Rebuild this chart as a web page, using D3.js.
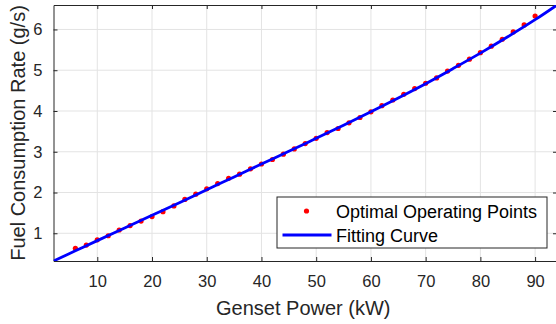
<!DOCTYPE html>
<html>
<head>
<meta charset="utf-8">
<script src="https://cdn.jsdelivr.net/npm/d3@7.9.0/dist/d3.min.js"></script>
<style>
  html, body { margin: 0; padding: 0; background: #fff; }
  svg { display: block; font-family: "Liberation Sans", Arial, Helvetica, sans-serif; }
</style>
</head>
<body>
<svg id="chart" width="556" height="324"></svg>
<script>
// Optimal operating points (kW, g/s)
const pointPower = [6, 8, 10, 12, 14, 16, 18, 20, 22, 24, 26, 28, 30, 32, 34, 36, 38, 40,
  42, 44, 46, 48, 50, 52, 54, 56, 58, 60, 62, 64, 66, 68, 70, 72, 74, 76, 78, 80,
  82, 84, 86, 88, 90];
const pointFuel = [0.63, 0.71, 0.84, 0.94, 1.08, 1.19, 1.30, 1.41, 1.53, 1.67, 1.83, 1.96, 2.09, 2.22, 2.35, 2.45, 2.58, 2.70,
  2.81, 2.94, 3.07, 3.20, 3.33, 3.47, 3.57, 3.71, 3.84, 3.98, 4.13, 4.27, 4.41, 4.55, 4.68, 4.81, 4.98, 5.12, 5.27, 5.43,
  5.59, 5.76, 5.94, 6.11, 6.33];

// Fitting curve
const curvePower = [2, 6, 10, 15, 20, 25, 30, 35, 40, 45, 50, 55, 60, 65, 70, 75, 80, 85, 90, 94];
const curveFuel = [0.32, 0.57, 0.82, 1.13, 1.44, 1.75, 2.07, 2.38, 2.70, 3.01, 3.33, 3.65, 3.98, 4.32, 4.67, 5.04, 5.42, 5.82, 6.24, 6.60];

const xTicks = [10, 20, 30, 40, 50, 60, 70, 80, 90];
const yTicks = [1, 2, 3, 4, 5, 6];
const legendLabels = ["Optimal Operating Points", "Fitting Curve"];

const svg = d3.select("#chart");
const plotLeft = 53.5, plotRight = 557, plotTop = 5, plotBottom = 261;

const x = d3.scaleLinear().domain([2, 94]).range([plotLeft, plotRight]);
const y = d3.scaleLinear().domain([0.32, 6.6]).range([plotBottom, plotTop]);

const axisColor = "#262626";
const gridColor = "#e3e3e3";

// grid
svg.append("g").selectAll("line")
  .data(xTicks).enter().append("line")
  .attr("x1", d => x(d)).attr("x2", d => x(d))
  .attr("y1", plotTop).attr("y2", plotBottom)
  .attr("stroke", gridColor).attr("stroke-width", 1);
svg.append("g").selectAll("line")
  .data(yTicks).enter().append("line")
  .attr("x1", plotLeft).attr("x2", plotRight)
  .attr("y1", d => y(d)).attr("y2", d => y(d))
  .attr("stroke", gridColor).attr("stroke-width", 1);

// axes with inward ticks
const tickLen = 4;
const gx = svg.append("g").attr("transform", `translate(0,${plotBottom})`)
  .call(d3.axisBottom(x).tickValues(xTicks).tickFormat(d3.format("d"))
    .tickSizeInner(-tickLen).tickSizeOuter(0).tickPadding(14));
const gy = svg.append("g").attr("transform", `translate(${plotLeft},0)`)
  .call(d3.axisLeft(y).tickValues(yTicks).tickFormat(d3.format("d"))
    .tickSizeInner(-tickLen).tickSizeOuter(0).tickPadding(11));
const gt = svg.append("g").attr("transform", `translate(0,${plotTop})`)
  .call(d3.axisTop(x).tickValues(xTicks).tickSizeInner(-tickLen).tickSizeOuter(0).tickFormat(""));
const gr = svg.append("g").attr("transform", `translate(${plotRight},0)`)
  .call(d3.axisRight(y).tickValues(yTicks).tickSizeInner(-tickLen).tickSizeOuter(0).tickFormat(""));

[gx, gy, gt, gr].forEach(g => {
  g.select(".domain").attr("stroke", axisColor).attr("stroke-width", 1);
  g.selectAll(".tick line").attr("stroke", axisColor);
  g.selectAll(".tick text").attr("fill", axisColor).style("font-size", "16.5px")
    .style("font-family", "Liberation Sans, Arial, sans-serif");
});

// clip to plot area
svg.append("clipPath").attr("id", "clip")
  .append("rect").attr("x", plotLeft).attr("y", plotTop)
  .attr("width", plotRight - plotLeft).attr("height", plotBottom - plotTop);

const plot = svg.append("g").attr("clip-path", "url(#clip)");

const points = d3.zip(pointPower, pointFuel);
plot.append("g").selectAll("circle")
  .data(points).enter().append("circle")
  .attr("cx", d => x(d[0])).attr("cy", d => y(d[1]))
  .attr("r", 2.6).attr("fill", "#ff0000");

const curve = d3.zip(curvePower, curveFuel);
plot.append("path")
  .datum(curve)
  .attr("d", d3.line().x(d => x(d[0])).y(d => y(d[1])).curve(d3.curveCatmullRom))
  .attr("fill", "none").attr("stroke", "#0000ff").attr("stroke-width", 2.8);

// axis titles
svg.append("text")
  .attr("x", (plotLeft + plotRight) / 2 - 2).attr("y", 315)
  .attr("text-anchor", "middle").attr("fill", axisColor)
  .style("font-size", "20px").text("Genset Power (kW)");
svg.append("text")
  .attr("transform", `translate(25,${(plotTop + plotBottom) / 2}) rotate(-90)`)
  .attr("text-anchor", "middle").attr("fill", axisColor)
  .style("font-size", "20px").text("Fuel Consumption Rate (g/s)");

// legend
const lg = svg.append("g");
lg.append("rect").attr("x", 277).attr("y", 197).attr("width", 270).attr("height", 51)
  .attr("fill", "#fff").attr("stroke", axisColor).attr("stroke-width", 1);
lg.append("circle").attr("cx", 306.5).attr("cy", 211).attr("r", 2.6).attr("fill", "#ff0000");
lg.append("line").attr("x1", 282.5).attr("x2", 331.5).attr("y1", 235).attr("y2", 235)
  .attr("stroke", "#0000ff").attr("stroke-width", 2.8);
lg.selectAll("text.lab").data(legendLabels).enter().append("text")
  .attr("class", "lab")
  .attr("x", 336).attr("y", (d, i) => 217.5 + i * 24)
  .attr("fill", "#000").style("font-size", "18px").text(d => d);
</script>
</body>
</html>
